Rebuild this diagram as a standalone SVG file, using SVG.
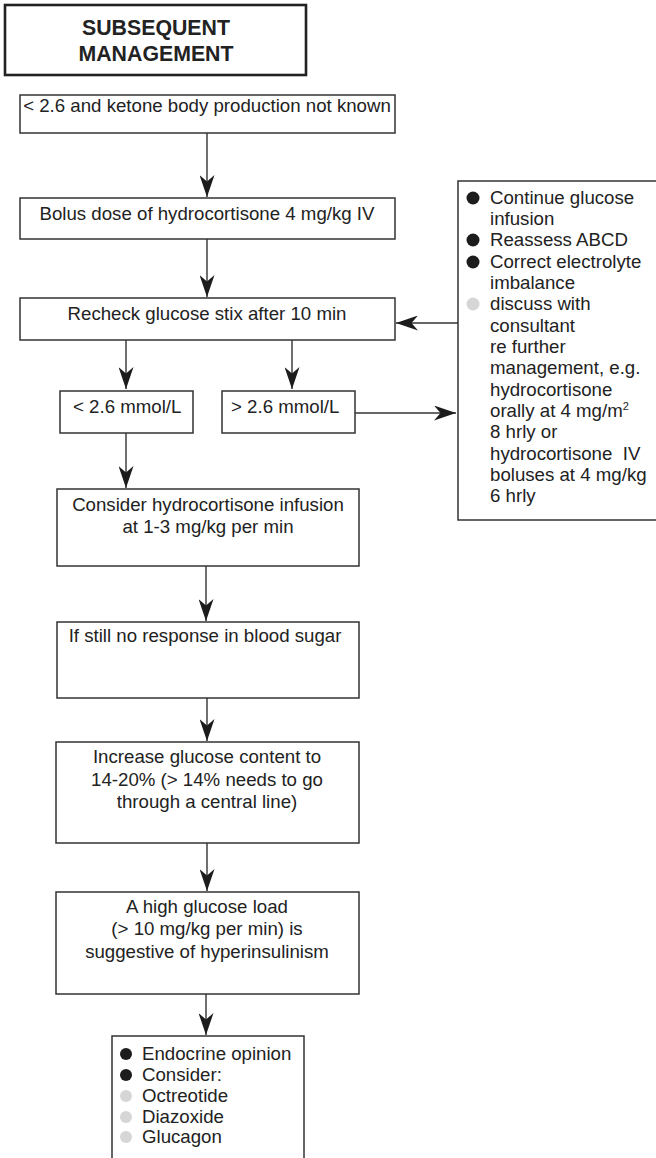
<svg xmlns="http://www.w3.org/2000/svg" width="656" height="1158" viewBox="0 0 656 1158">
  <style>
    text { font-family: "Liberation Sans", Arial, sans-serif; font-size: 18.67px; fill: #222; }
    .title { font-size: 21.3px; font-weight: bold; text-anchor: middle; }
    .mid { text-anchor: middle; }
    .box { fill: #fff; stroke: #333; stroke-width: 1.5; }
    .tbox { fill: #fff; stroke: #222; stroke-width: 2.6; }
    .conn { fill: none; stroke: #333; stroke-width: 1.4; }
    .dot { fill: #1c1c1c; }
    .dot2 { fill: #d6d6d6; }
  </style>
  <defs>
    <marker id="arrow" markerUnits="userSpaceOnUse" markerWidth="23" markerHeight="15" refX="22" refY="7.5" orient="auto">
      <path d="M22,7.5 L0,0 L6.5,7.5 L0,15 Z" fill="#1c1c1c"/>
    </marker>
  </defs>

  <rect width="656" height="1158" fill="#fff"/>

  <g id="title">
    <rect class="tbox" x="5" y="5" width="301" height="70"/>
    <text class="title" x="156" y="35">SUBSEQUENT</text>
    <text class="title" x="156" y="61">MANAGEMENT</text>
  </g>

  <g id="ketone-unknown">
    <rect class="box" x="20" y="95" width="375" height="38"/>
    <text class="mid" x="207" y="112">&lt; 2.6 and ketone body production not known</text>
  </g>

  <g id="bolus">
    <rect class="box" x="20" y="198" width="375" height="41"/>
    <text class="mid" x="207" y="220">Bolus dose of hydrocortisone 4 mg/kg IV</text>
  </g>

  <g id="recheck">
    <rect class="box" x="20" y="298" width="375" height="42"/>
    <text class="mid" x="207" y="320">Recheck glucose stix after 10 min</text>
  </g>

  <g id="low">
    <rect class="box" x="60" y="391" width="133" height="42"/>
    <text x="73" y="413">&lt; 2.6 mmol/L</text>
  </g>

  <g id="high">
    <rect class="box" x="222" y="391" width="133" height="42"/>
    <text x="231" y="413">&gt; 2.6 mmol/L</text>
  </g>

  <g id="ongoing-care">
    <rect class="box" x="458" y="181" width="220" height="339"/>
    <circle class="dot" cx="473" cy="198" r="6.5"/>
    <circle class="dot" cx="473" cy="240" r="6.5"/>
    <circle class="dot" cx="473" cy="262" r="6.5"/>
    <circle class="dot2" cx="473" cy="304" r="6.5"/>
    <text x="490" y="204">Continue glucose</text>
    <text x="490" y="225">infusion</text>
    <text x="490" y="246">Reassess ABCD</text>
    <text x="490" y="268">Correct electrolyte</text>
    <text x="490" y="289">imbalance</text>
    <text x="490" y="310">discuss with</text>
    <text x="490" y="332">consultant</text>
    <text x="490" y="353">re further</text>
    <text x="490" y="374">management, e.g.</text>
    <text x="490" y="396">hydrocortisone</text>
    <text x="490" y="417">orally at 4 mg/m<tspan font-size="11" dy="-7">2</tspan></text>
    <text x="490" y="438">8 hrly or</text>
    <text x="490" y="460" xml:space="preserve">hydrocortisone  IV</text>
    <text x="490" y="481">boluses at 4 mg/kg</text>
    <text x="490" y="502">6 hrly</text>
  </g>

  <g id="infusion">
    <rect class="box" x="57" y="489" width="302" height="77"/>
    <text class="mid" x="208" y="511">Consider hydrocortisone infusion</text>
    <text class="mid" x="208" y="533">at 1-3 mg/kg per min</text>
  </g>

  <g id="no-response">
    <rect class="box" x="57" y="622" width="302" height="76"/>
    <text class="mid" x="205" y="642">If still no response in blood sugar</text>
  </g>

  <g id="increase-glucose">
    <rect class="box" x="56" y="742" width="303" height="101"/>
    <text class="mid" x="207" y="763">Increase glucose content to</text>
    <text class="mid" x="207" y="786">14-20% (&gt; 14% needs to go</text>
    <text class="mid" x="207" y="808">through a central line)</text>
  </g>

  <g id="high-load">
    <rect class="box" x="56" y="892" width="303" height="102"/>
    <text class="mid" x="207" y="913">A high glucose load</text>
    <text class="mid" x="207" y="935">(&gt; 10 mg/kg per min) is</text>
    <text class="mid" x="207" y="958">suggestive of hyperinsulinism</text>
  </g>

  <g id="endocrine">
    <rect class="box" x="112" y="1036" width="192" height="140"/>
    <circle class="dot" cx="126" cy="1054" r="6"/>
    <circle class="dot" cx="126" cy="1075" r="6"/>
    <circle class="dot2" cx="126" cy="1096" r="6"/>
    <circle class="dot2" cx="126" cy="1117" r="6"/>
    <circle class="dot2" cx="126" cy="1137" r="6"/>
    <text x="142" y="1060">Endocrine opinion</text>
    <text x="142" y="1081">Consider:</text>
    <text x="142" y="1102">Octreotide</text>
    <text x="142" y="1123">Diazoxide</text>
    <text x="142" y="1143">Glucagon</text>
  </g>

  <g id="connectors">
    <path class="conn" d="M207,133 V197" marker-end="url(#arrow)"/>
    <path class="conn" d="M207,239 V297" marker-end="url(#arrow)"/>
    <path class="conn" d="M458,323 H396" marker-end="url(#arrow)"/>
    <path class="conn" d="M126,340 V389" marker-end="url(#arrow)"/>
    <path class="conn" d="M292,340 V389" marker-end="url(#arrow)"/>
    <path class="conn" d="M355,413 H456" marker-end="url(#arrow)"/>
    <path class="conn" d="M126,433 V488" marker-end="url(#arrow)"/>
    <path class="conn" d="M206,566 V621" marker-end="url(#arrow)"/>
    <path class="conn" d="M207,698 V741" marker-end="url(#arrow)"/>
    <path class="conn" d="M207,843 V891" marker-end="url(#arrow)"/>
    <path class="conn" d="M206,994 V1035" marker-end="url(#arrow)"/>
  </g>
</svg>
